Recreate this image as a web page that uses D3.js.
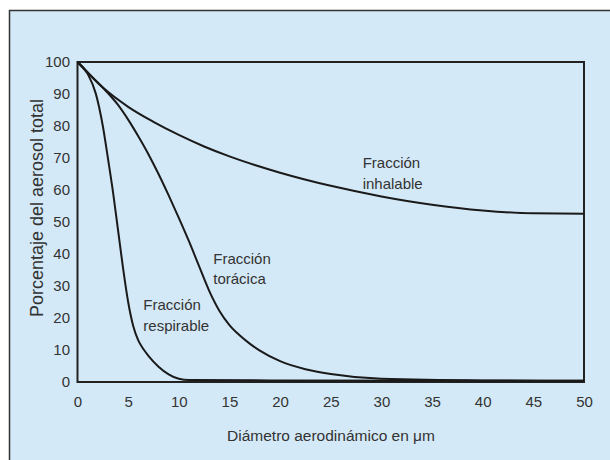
<!DOCTYPE html>
<html>
<head>
<meta charset="utf-8">
<script src="https://cdn.jsdelivr.net/npm/d3@7"></script>
<style>
  body { margin: 0; background: #fff; }
  text { font-family: "Liberation Sans", Arial, sans-serif; fill: #333; }
</style>
</head>
<body>
<script>
// Values (diameter in µm, percentage of total aerosol)
const xTicks = [0, 5, 10, 15, 20, 25, 30, 35, 40, 45, 50];
const yTicks = [0, 10, 20, 30, 40, 50, 60, 70, 80, 90, 100];

const inhalable = [[0, 100], [2.5, 92], [5, 86], [7.5, 81.3], [10, 77.2], [12.5, 73.6],
  [15, 70.5], [17.5, 67.8], [20, 65.4], [25, 61.3], [30, 58], [35, 55.4], [40, 53.6],
  [45, 52.7], [50, 52.6]];
const thoracic = [[0, 100], [1, 96.8], [2, 93.6], [3, 90.3], [4, 86.6], [5, 82], [6, 76.8],
  [7, 71.2], [8, 65], [9, 58.3], [10, 51.3], [11, 44], [12, 36.2], [13, 28.5], [14, 22.3],
  [15, 17.8], [16, 14.6], [17, 12], [18, 9.8], [20, 6.5], [22.5, 4], [25, 2.5], [30, 1],
  [40, 0.5], [50, 0.4]];
const respirable = [[0, 100], [1, 96.3], [1.8, 90.2], [2.5, 80], [3, 70], [3.5, 59.5],
  [4, 47.5], [4.5, 35.5], [5, 25], [5.5, 17.5], [6, 13], [6.5, 10.3], [7, 8.2], [8, 4.8],
  [9, 2.4], [10, 1], [11, 0.6], [20, 0.5], [50, 0.4]];

const labels = [
  {lines: ["Fracción", "inhalable"], x: 28.15, y: 66.8},
  {lines: ["Fracción", "torácica"], x: 13.4, y: 37},
  {lines: ["Fracción", "respirable"], x: 6.5, y: 22.5}
];

const W = 610, H = 460;
const margin = {top: 62, left: 77.5, right: 26, bottom: 78};
const width = W - margin.left - margin.right,
      height = H - margin.top - margin.bottom;

const svg = d3.select("body").append("svg")
  .attr("width", W).attr("height", H);

// Background panel
svg.append("rect")
  .attr("x", 9.5).attr("y", 10.5)
  .attr("width", W + 10).attr("height", H + 10)
  .attr("fill", "#d4e9f7")
  .attr("stroke", "#333").attr("stroke-width", 1.5);

const g = svg.append("g").attr("transform", `translate(${margin.left},${margin.top})`);

const x = d3.scaleLinear().domain([0, 50]).range([0, width]);
const y = d3.scaleLinear().domain([0, 100]).range([height, 0]);

// Axes with no tick marks, just labels
const xAxis = g.append("g")
  .attr("transform", `translate(0,${height})`)
  .call(d3.axisBottom(x).tickValues(xTicks).tickSize(0).tickPadding(14));
const yAxis = g.append("g")
  .call(d3.axisLeft(y).tickValues(yTicks).tickSize(0).tickPadding(7.5));
[xAxis, yAxis].forEach(a => {
  a.select(".domain").remove();
  a.selectAll("text").attr("font-size", 15)
    .attr("font-family", "Liberation Sans, Arial, sans-serif").attr("fill", "#333");
});

// Frame
g.append("rect")
  .attr("width", width).attr("height", height)
  .attr("fill", "none").attr("stroke", "#222").attr("stroke-width", 2);

const line = d3.line()
  .x(d => x(d[0])).y(d => y(d[1]))
  .curve(d3.curveMonotoneX);

[inhalable, thoracic, respirable].forEach(s => {
  g.append("path").datum(s)
    .attr("d", line)
    .attr("fill", "none")
    .attr("stroke", "#1a1a1a")
    .attr("stroke-width", 2);
});

// Curve labels
labels.forEach(l => {
  const t = g.append("text")
    .attr("x", x(l.x)).attr("y", y(l.y))
    .attr("font-size", 15);
  l.lines.forEach((s, i) => {
    t.append("tspan").attr("x", x(l.x)).attr("dy", i ? 20.5 : 0).text(s);
  });
});

// Axis titles
svg.append("text")
  .attr("x", 331).attr("y", 441)
  .attr("text-anchor", "middle").attr("font-size", 15.5)
  .text("Diámetro aerodinámico en μm");

svg.append("text")
  .attr("transform", "translate(43,208) rotate(-90)")
  .attr("text-anchor", "middle").attr("font-size", 18)
  .text("Porcentaje del aerosol total");
</script>
</body>
</html>
